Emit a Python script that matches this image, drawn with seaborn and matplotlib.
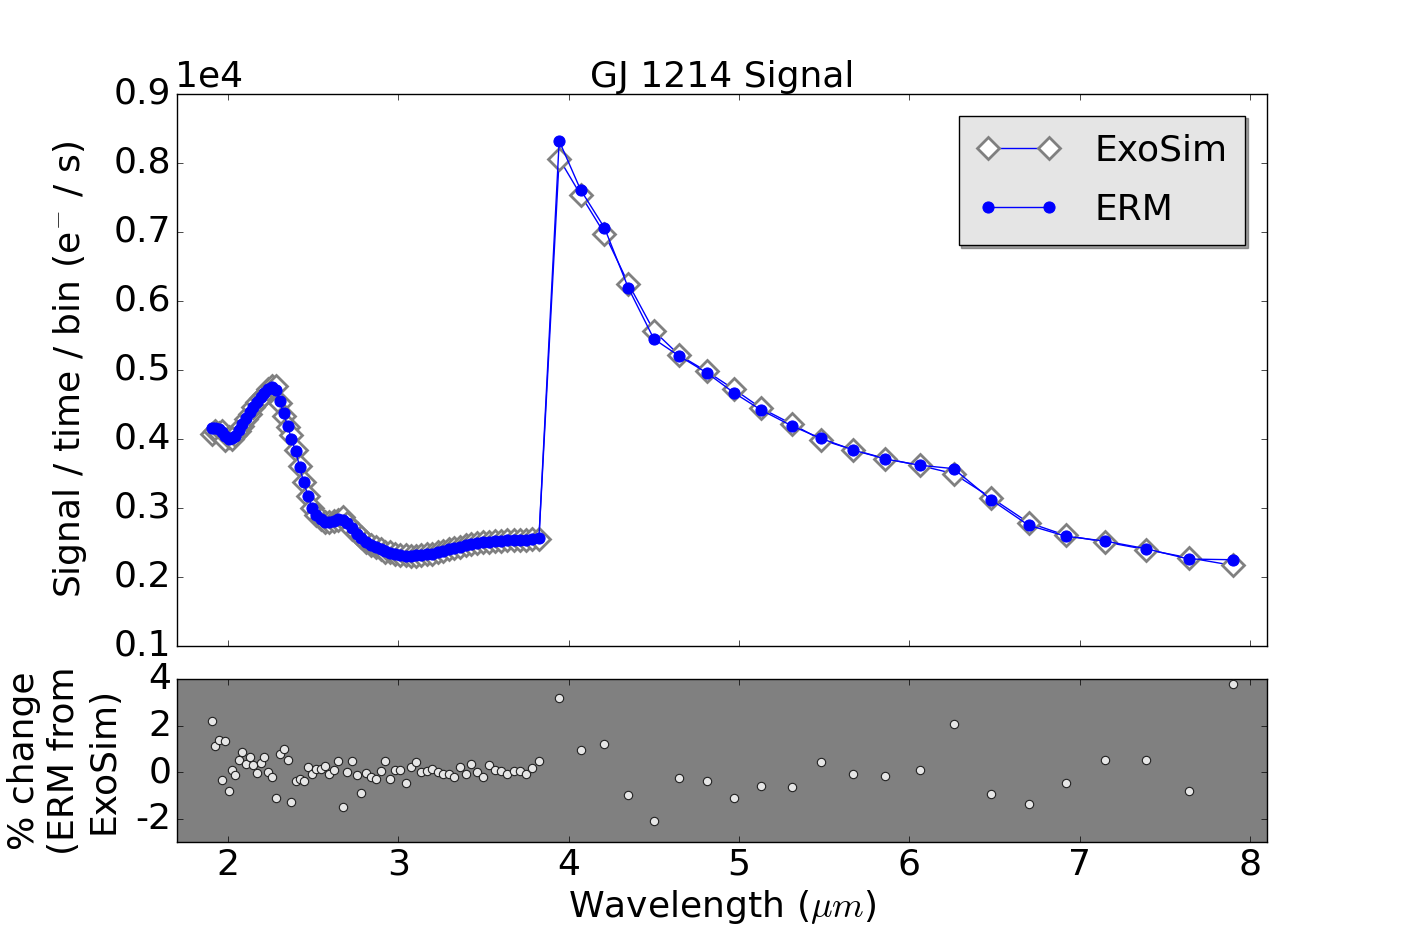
import matplotlib
matplotlib.use("Agg")
import matplotlib.pyplot as plt
import seaborn as sns
import numpy as np

# wavelength bins (um): R~100 channel then R~30 channel
wl_short = [1.906, 1.925, 1.944, 1.964, 1.983, 2.003, 2.023, 2.043, 2.064, 2.084,
            2.105, 2.126, 2.148, 2.169, 2.191, 2.213, 2.235, 2.257, 2.280, 2.303,
            2.326, 2.349, 2.372, 2.396, 2.420, 2.444, 2.469, 2.493, 2.518, 2.543,
            2.569, 2.595, 2.621, 2.647, 2.673, 2.700, 2.727, 2.754, 2.782, 2.810,
            2.838, 2.866, 2.895, 2.924, 2.953, 2.982, 3.012, 3.043, 3.073, 3.104,
            3.135, 3.166, 3.198, 3.230, 3.262, 3.295, 3.328, 3.361, 3.394, 3.428,
            3.463, 3.497, 3.532, 3.568, 3.603, 3.639, 3.676, 3.713, 3.750, 3.787,
            3.825]
wl_long = [3.944, 4.07, 4.21, 4.35, 4.50, 4.65, 4.81, 4.97, 5.13, 5.31, 5.48,
           5.67, 5.86, 6.06, 6.26, 6.48, 6.70, 6.92, 7.15, 7.39, 7.64, 7.90]

# ERM signal (e-/s per bin)
erm_short = [4160, 4160, 4140, 4100, 4040, 4000, 4010, 4050, 4130, 4220,
             4310, 4390, 4470, 4540, 4610, 4670, 4720, 4760, 4710, 4550,
             4370, 4190, 4000, 3830, 3600, 3370, 3180, 3000, 2900, 2840,
             2800, 2790, 2810, 2840, 2830, 2780, 2710, 2630, 2560, 2500,
             2460, 2430, 2400, 2370, 2350, 2330, 2320, 2310, 2310, 2320,
             2320, 2330, 2340, 2360, 2380, 2400, 2420, 2440, 2460, 2480,
             2490, 2500, 2510, 2520, 2520, 2530, 2530, 2540, 2540, 2550,
             2560]
erm_long = [8320, 7610, 7060, 6190, 5450, 5200, 4960, 4670, 4420, 4190, 4010,
            3840, 3710, 3620, 3570, 3120, 2750, 2590, 2520, 2410, 2260, 2250]

# % change of ERM from ExoSim
pct_short = [2.2, 1.12, 1.39, -0.32, 1.33, -0.8, 0.09, -0.13, 0.51, 0.86,
             0.33, 0.65, 0.30, -0.04, 0.38, 0.65, 0.0, -0.23, -1.1, 0.78,
             0.99, 0.51, -1.3, -0.4, -0.28, -0.4, 0.22, -0.1, 0.12, 0.12,
             0.26, -0.1, 0.07, 0.46, -1.49, 0.0, 0.46, -0.13, -0.91, -0.04,
             -0.19, -0.28, 0.04, 0.46, -0.28, 0.07, 0.07, -0.48, 0.2, 0.42,
             0.0, 0.04, 0.13, -0.01, -0.09, -0.09, -0.23, 0.22, -0.09, 0.35,
             0.0, -0.19, 0.30, 0.09, 0.04, -0.06, 0.04, 0.04, -0.06, 0.16,
             0.46]
pct_long = [3.2, 0.95, 1.2, -1.0, -2.1, -0.25, -0.4, -1.1, -0.6, -0.65, 0.45,
            -0.1, -0.15, 0.1, 2.05, -0.95, -1.35, -0.45, 0.5, 0.5, -0.8, 3.8]

wl = np.array(wl_short + wl_long)
erm = np.array(erm_short + erm_long, dtype=float)
pct = np.array(pct_short + pct_long)
exosim = erm / (1 + pct / 100.0)

FS = 26
plt.style.use("classic")
plt.rcParams["font.size"] = FS
plt.rcParams["axes.unicode_minus"] = False

fig = plt.figure(figsize=(14.06, 9.35), dpi=100, facecolor="white")
ax = fig.add_axes([0.1259, 0.3091, 0.7752, 0.5904])
ax2 = fig.add_axes([0.1259, 0.0995, 0.7752, 0.1743])

sns.lineplot(x=wl, y=exosim, ax=ax, color="blue", lw=1, marker="D", markersize=11,
             markerfacecolor="white", markeredgecolor="gray", markeredgewidth=2,
             label="ExoSim", sort=False)
sns.lineplot(x=wl, y=erm, ax=ax, color="blue", lw=1, marker="o", markersize=8,
             markerfacecolor="blue", markeredgecolor="blue", label="ERM", sort=False)

ax.set_xlim(1.7, 8.1)
ax.set_ylim(1000, 9000)
ax.set_yticks(np.arange(1000, 9001, 1000))
ax.set_yticklabels(["%.1f" % (v / 1e4) for v in np.arange(1000, 9001, 1000)])
ax.set_xticks(range(2, 9))
ax.set_xticklabels([])
ax.text(-0.002, 1.0, "1e4", transform=ax.transAxes, ha="left", va="bottom", fontsize=FS)
ax.set_title("GJ 1214 Signal", fontsize=FS)
ax.set_ylabel("Signal / time / bin (e$^{-}$ / s)", fontsize=FS, labelpad=18)
ax.set_xlabel("")
leg = ax.legend(loc="upper right", numpoints=2, shadow=True, fontsize=FS,
                fancybox=False, borderpad=0.5, handlelength=2.3,
                handletextpad=0.95, labelspacing=0.7, borderaxespad=0.6)
leg.get_frame().set_facecolor("#e5e5e5")

ax2.set_facecolor("#808080")
sns.scatterplot(x=wl, y=pct, ax=ax2, color="#e6e6e6", edgecolor="#222222",
                s=36, linewidth=0.8, zorder=3)
ax2.set_xlim(1.7, 8.1)
ax2.set_ylim(-3, 4)
ax2.set_yticks([-2, 0, 2, 4])
ax2.set_xticks(range(2, 9))
ax2.set_xlabel("Wavelength ($\\mu m$)", fontsize=FS)
ax2.set_ylabel("% change\n(ERM from\nExoSim)", fontsize=FS, labelpad=11)

fig.savefig("out.png", dpi=100, facecolor="white")
